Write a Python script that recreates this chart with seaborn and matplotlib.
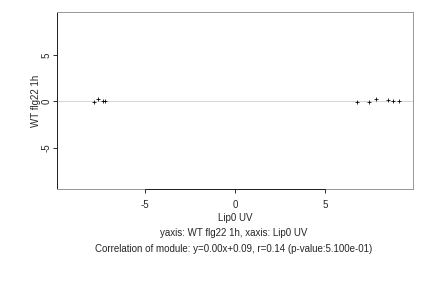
import matplotlib
matplotlib.use("Agg")
import matplotlib.pyplot as plt
import seaborn as sns
import pandas as pd
from matplotlib.lines import Line2D

sns.set_style("white")
plt.rcParams['font.family'] = ['Liberation Sans', 'DejaVu Sans']
plt.rcParams['axes.unicode_minus'] = False

x_vals = [-7.83, -7.60, -7.32, -7.22, 6.79, 7.44, 7.87, 8.52, 8.79, 9.13]
y_vals = [-0.14, 0.22, 0.03, 0.03, -0.14, -0.14, 0.29, 0.10, 0.03, 0.03]
x_ticks = [-5, 0, 5]
y_ticks = [-5, 0, 5]
x_label = "Lip0 UV"
y_label = "WT flg22 1h"
caption1 = "yaxis: WT flg22 1h, xaxis: Lip0 UV"
caption2 = "Correlation of module: y=0.00x+0.09, r=0.14 (p-value:5.100e-01)"

df = pd.DataFrame({"x": x_vals, "y": y_vals})

FS = 9.8
fig = plt.figure(figsize=(6, 4), dpi=72)
ax = fig.add_axes([0.1325, 0.343, 0.8235, 0.6145])
ax.axhline(0, color="#cccccc", lw=0.8, zorder=0)
sns.scatterplot(data=df, x="x", y="y", marker="+", color="black", s=22,
                linewidth=0.8, ax=ax, zorder=3)
ax.set_xlim(-9.87, 9.9)
ax.set_ylim(-9.5, 9.6)
ax.set_xticks(x_ticks)
ax.set_yticks(y_ticks)
ax.set_xticklabels([str(t) for t in x_ticks], fontsize=FS)
ax.set_yticklabels([str(t) for t in y_ticks], fontsize=FS, rotation=90, va="center")
ax.tick_params(axis="both", direction="out", length=4, width=0.8, color="black",
               bottom=True, left=True)
ax.tick_params(axis="x", pad=6.5)
ax.tick_params(axis="y", pad=2)
ax.set_xlabel(x_label, fontsize=FS, labelpad=3.5)
ax.set_ylabel(y_label, fontsize=FS, labelpad=0)

for side in ["top", "right", "bottom"]:
    ax.spines[side].set_color("#999999")
    ax.spines[side].set_linewidth(1.0)
ax.spines["left"].set_color("#222222")
ax.spines["left"].set_linewidth(1.0)
# x axis black segment spanning ticks
ax.add_line(Line2D([x_ticks[0], x_ticks[-1]], [0, 0], transform=ax.get_xaxis_transform(),
                   color="#222222", lw=1.0, clip_on=False, zorder=5))

cx = 234 / 432
fig.text(cx, 1 - 232.5 / 288, caption1, ha="center", va="center", fontsize=FS)
fig.text(cx, 1 - 249 / 288, caption2, ha="center", va="center", fontsize=FS)

fig.savefig("out.png", dpi=72)
